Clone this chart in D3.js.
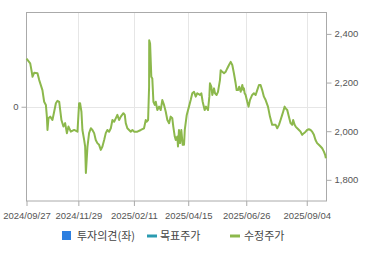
<!DOCTYPE html>
<html>
<head>
<meta charset="utf-8">
<script src="https://cdn.jsdelivr.net/npm/d3@7"></script>
<style>
  body { margin: 0; background: #fff; }
  svg text { font-family: "Liberation Sans", Arial, sans-serif; fill: #555; }
  .legend text { font-family: "Noto Sans CJK KR", sans-serif; fill: #444; font-size: 11px; }
</style>
</head>
<body>
<svg id="chart" width="370" height="255"></svg>
<script>
// x = trading-day position since 2024/09/27, price = adjusted close
const dayIdx = [0,3,4,4.9,6.2,8.9,10.3,12.9,14.3,15.7,16.5,17,17.8,19.2,21,22.4,23.8,25.1,26.5,27.3,
  28.3,29.9,31.3,32.7,34,35.9,38.6,41.3,42.6,43.4,44.5,45.3,46.7,47.5,48.1,49.4,50.7,52.1,53.4,54.8,
  56.1,57.4,58.8,60.2,61.5,62.9,64.2,65.5,66.9,68.3,69.6,71,72.3,73.6,75,76.4,78.5,79.6,80.4,81.7,
  83.1,84.5,85.8,87.1,89.8,92.6,95.2,96.6,97.4,98.5,99.3,99.4,100.1,101.1,101.9,102.8,103.9,104.7,106,107.4,
  108.7,110,111.4,112.8,114.1,115.5,116.8,118.1,118.9,120.1,120.9,122.2,122.7,123.5,124.4,125.4,126.5,127.6,128.2,129.8,
  131.6,133,134.3,135.7,137.1,138.3,140.5,141.6,142.7,144.3,145.4,147,148.1,148.6,149.7,150.5,151.9,152.7,154,155.1,
  156.7,157.3,158.6,160,161.3,162.6,164,165.4,166.7,168,169.4,170.2,171.3,172.3,173.5,174.8,175.6,176.1,176.7,177.5,
  178.8,179.9,181,182.8,184.2,185.6,186.9,188.3,189.6,190.9,192.3,193.7,195.6,197.2,199,201.8,203.1,204.5,205.8,207.1,
  207.9,209.1,209.9,211.2,212.5,213.9,215.2,216,217.2,218,219.3,220.7,222,223.3,224.7,226.1,227.3,228.7,230.1,231.4,
  232.8,234.1,235.4,236.8,238.2,239.5,240.9,241.9,242.5];
const price = [2298,2279,2251,2224,2240,2238,2210,2169,2121,2108,2060,2005,2053,2060,2046,2080,2115,2125,2121,2087,
  2046,2019,2033,1992,2019,1998,2005,1998,2115,2115,2080,2005,1964,1937,1828,1937,1992,2012,2005,1992,
  1964,1951,1944,1923,1937,1964,1992,2005,1998,2012,2046,2039,2053,2067,2046,2060,2074,2067,2033,2012,
  2005,1998,2005,1998,1998,2005,2012,2046,2039,2046,2183,2374,2361,2224,2217,2121,2108,2121,2087,2101,
  2087,2128,2108,2080,2046,2033,2060,2053,2019,1978,1964,1978,1937,2005,1951,2005,1944,1944,2005,2067,
  2101,2128,2156,2162,2142,2156,2149,2156,2121,2087,2101,2087,2142,2197,2183,2149,2176,2156,2149,2162,
  2210,2251,2244,2238,2244,2258,2272,2285,2272,2238,2197,2169,2169,2183,2162,2190,2169,2176,2156,2149,
  2121,2101,2128,2149,2156,2149,2169,2190,2190,2169,2142,2128,2101,2060,2026,2026,2012,2026,2046,2067,
  2080,2101,2094,2087,2060,2033,2026,2046,2026,2019,2012,2005,1998,1985,1992,1998,2005,2008,2005,1998,
  1985,1964,1951,1944,1937,1930,1916,1903,1889];

const tickDays = [0, 42, 87, 131, 178, 227];
const tickLabels = ["2024/09/27", "2024/11/29", "2025/02/11", "2025/04/15", "2025/06/26", "2025/09/04"];
const rightTicks = [1800, 2000, 2200, 2400];
const leftTicks = [0];
const legendNames = ["투자의견(좌)", "목표주가", "수정주가"];

const svg = d3.select("#chart");
const m = { left: 26.5, top: 12.5, right: 326.5, bottom: 201 };

const x = d3.scaleLinear().domain([0, 243]).range([m.left, m.right]);
const y = d3.scaleLinear().domain([1713, 2488]).range([m.bottom, m.top]);
const yLeft = d3.scaleLinear().domain([-1, 1]).range([m.bottom, m.top]);

// grid
svg.append("g").selectAll("line.vg")
  .data(tickDays.slice(1))
  .enter().append("line")
  .attr("x1", d => Math.round(x(d)) + 0.5).attr("x2", d => Math.round(x(d)) + 0.5)
  .attr("y1", m.top).attr("y2", m.bottom)
  .attr("stroke", "#e6e6e6");
svg.append("line")
  .attr("x1", m.left).attr("x2", m.right)
  .attr("y1", Math.round(yLeft(0)) + 0.5).attr("y2", Math.round(yLeft(0)) + 0.5)
  .attr("stroke", "#e6e6e6");

// frame
svg.append("rect")
  .attr("x", m.left).attr("y", m.top)
  .attr("width", m.right - m.left).attr("height", m.bottom - m.top)
  .attr("fill", "none").attr("stroke", "#aaa");

// axes
const axisBottom = svg.append("g")
  .attr("transform", `translate(0,${m.bottom})`)
  .call(d3.axisBottom(x).tickValues(tickDays).tickFormat((d, i) => tickLabels[i]).tickSize(5).tickSizeOuter(0));
const axisRight = svg.append("g")
  .attr("transform", `translate(${m.right},0)`)
  .call(d3.axisRight(y).tickValues(rightTicks).tickFormat(d3.format(",")).tickSize(5).tickPadding(3).tickSizeOuter(0));
const axisLeft = svg.append("g")
  .attr("transform", `translate(${m.left},0)`)
  .call(d3.axisLeft(yLeft).tickValues(leftTicks).tickFormat(d3.format("d")).tickSize(5).tickPadding(3).tickSizeOuter(0));

[axisBottom, axisRight, axisLeft].forEach(a => {
  a.select(".domain").remove();
  a.selectAll(".tick line").attr("stroke", "#aaa");
  a.selectAll(".tick text").attr("fill", "#555").style("font-size", "9.5px");
});
axisBottom.selectAll(".tick text").attr("dy", "1.1em");

// price line
const line = d3.line()
  .x((d, i) => x(dayIdx[i]))
  .y(d => y(d));

svg.append("path")
  .datum(price)
  .attr("d", line)
  .attr("fill", "none")
  .attr("stroke", "#8cb84c")
  .attr("stroke-width", 2)
  .attr("stroke-linejoin", "round");

// legend
const lg = svg.append("g").attr("class", "legend");
lg.append("rect").attr("x", 62).attr("y", 231).attr("width", 9).attr("height", 9).attr("fill", "#2d7fe0");
lg.append("text").attr("x", 77).attr("y", 240).text(legendNames[0]);
lg.append("line").attr("x1", 147).attr("x2", 157).attr("y1", 236).attr("y2", 236)
  .attr("stroke", "#2a9bb0").attr("stroke-width", 3);
lg.append("text").attr("x", 160).attr("y", 240).text(legendNames[1]);
lg.append("line").attr("x1", 230).attr("x2", 240).attr("y1", 236).attr("y2", 236)
  .attr("stroke", "#8cb84c").attr("stroke-width", 3);
lg.append("text").attr("x", 244).attr("y", 240).text(legendNames[2]);
</script>
</body>
</html>
